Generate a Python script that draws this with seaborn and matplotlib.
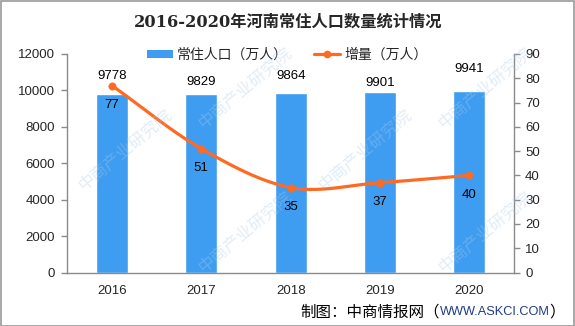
import numpy as np
import pandas as pd
import matplotlib
matplotlib.use("Agg")
import matplotlib.pyplot as plt
import seaborn as sns
from matplotlib.lines import Line2D
from matplotlib.patches import Patch, Rectangle

# ---- data ----
years = ["2016", "2017", "2018", "2019", "2020"]
population = [9778, 9829, 9864, 9901, 9941]      # 常住人口（万人）
increase = [77, 51, 35, 37, 40]                  # 增量（万人）
left_ticks = [0, 2000, 4000, 6000, 8000, 10000, 12000]
right_ticks = [0, 10, 20, 30, 40, 50, 60, 70, 80, 90]

title_text = "2016-2020年河南常住人口数量统计情况"
bar_name = "常住人口（万人）"
line_name = "增量（万人）"
footer_head = "制图：中商情报网（"
footer_url = "WWW.ASKCI.COM"
footer_tail = "）"
watermark = "中商产业研究院"

# ---- style ----
BAR = "#3F9DF1"
LINE = "#FF6A22"
SPINE = "#8A8A8A"
W, H = 575, 326

sns.set_style("white")
plt.rcParams["font.family"] = ["Liberation Sans", "Noto Sans CJK SC"]


def smooth(xv, yv, n=40):
    """Catmull-Rom curve through the points, like a smoothed spreadsheet line."""
    xv = np.asarray(xv, float)
    yv = np.asarray(yv, float)
    px = np.concatenate([[2 * xv[0] - xv[1]], xv, [2 * xv[-1] - xv[-2]]])
    py = np.concatenate([[2 * yv[0] - yv[1]], yv, [2 * yv[-1] - yv[-2]]])
    ox, oy = [], []
    t = np.linspace(0, 1, n)
    for i in range(1, len(px) - 2):
        for arr, out in ((px, ox), (py, oy)):
            p0, p1, p2, p3 = arr[i - 1], arr[i], arr[i + 1], arr[i + 2]
            out.extend(0.5 * ((2 * p1) + (-p0 + p2) * t
                              + (2 * p0 - 5 * p1 + 4 * p2 - p3) * t ** 2
                              + (-p0 + 3 * p1 - 3 * p2 + p3) * t ** 3))
    return np.array(ox), np.array(oy)


df = pd.DataFrame({"year": years, "population": population, "increase": increase})
pos = np.arange(len(years))

fig = plt.figure(figsize=(W / 100, H / 100), dpi=100)
ax = fig.add_axes([67.3 / W, 1 - 272.5 / H, (514 - 67.3) / W, (272.5 - 54) / H])
ax.set_facecolor("none")

sns.barplot(data=df, x="year", y="population", color=BAR, saturation=1,
            width=0.36, ax=ax, zorder=2)
ax.set_xlim(-0.5, len(years) - 0.5)
ax.set_ylim(0, 12000)
ax.set_yticks(left_ticks)
ax.set_xlabel("")
ax.set_ylabel("")

ax2 = ax.twinx()
sx, sy = smooth(pos, increase)
ax2.plot(sx, sy, color=LINE, lw=2.3, solid_capstyle="round", zorder=3)
sns.scatterplot(x=pos, y=increase, ax=ax2, color=LINE, edgecolor=LINE,
                s=28, zorder=4, legend=False)
ax2.set_ylim(0, 90)
ax2.set_yticks(right_ticks)
ax2.set_xlim(-0.5, len(years) - 0.5)

# value labels on the bars (raised individually to clear the curve)
bar_lift = [17, 11, 16, 8, 21]
for i, v in enumerate(population):
    ax.annotate(f"{v}", (pos[i], v), xytext=(0, bar_lift[i] + 1),
                textcoords="offset pixels", ha="center", va="center",
                fontsize=9.5, color="black", zorder=5)
for i, v in enumerate(increase):
    ax2.annotate(f"{v}", (pos[i], v), xytext=(0, -19.5),
                 textcoords="offset pixels", ha="center", va="center",
                 fontsize=9.5, color="black", zorder=5)

# axes and ticks
for a in (ax, ax2):
    for s in a.spines.values():
        s.set_color(SPINE)
        s.set_linewidth(1.0)
    a.spines["top"].set_visible(False)
ax.spines["right"].set_visible(False)
ax2.spines["left"].set_visible(False)
ax2.spines["bottom"].set_visible(False)

ax.set_xticks(pos)
ax.set_xticklabels(years)
ax.set_xticks(np.arange(-0.5, len(years)), minor=True)
ax.tick_params(axis="x", which="major", length=0, pad=9, labelsize=9.5)
ax.tick_params(axis="x", which="minor", length=4, width=1, color=SPINE, direction="out")
ax.tick_params(axis="y", length=4, width=1, color=SPINE, direction="out", pad=5,
               labelsize=9.5, left=True)
ax2.tick_params(axis="y", length=4, width=1, color=SPINE, direction="out", pad=4,
                labelsize=9.5, right=True)
ax.grid(False)
ax2.grid(False)

# title and legend
fig.text(288 / W, 1 - 22.5 / H, title_text, ha="center", va="center",
         fontsize=11.7, fontweight="bold",
         family=["DejaVu Serif", "Noto Sans CJK SC"])
handles = [Patch(facecolor=BAR, edgecolor="none", label=bar_name),
           Line2D([0], [0], color=LINE, lw=2.3, marker="o", markersize=4.5,
                  label=line_name)]
fig.legend(handles=handles, loc="center", bbox_to_anchor=(287 / W, 1 - 55 / H),
           ncol=2, frameon=False, handlelength=1.9,
           handleheight=0.55, handletextpad=0.25, columnspacing=1.9,
           prop={"family": ["Noto Sans CJK SC"], "size": 10})

# faint diagonal watermark, kept inside the frame
for xx, yy in [(125, 150), (365, 150), (245, 232), (485, 232), (245, 88), (485, 88)]:
    fig.text(xx / W, 1 - yy / H, watermark, rotation=40, ha="center",
             va="center", fontsize=12, color="#A9CBE8", alpha=0.35,
             family=["Noto Sans CJK SC"], zorder=10)

# footer, assembled right to left
fig.canvas.draw()
renderer = fig.canvas.get_renderer()
right = 565 / W
yf = 1 - 312 / H
parts = [(footer_tail, "black", 11.2), (footer_url, "#1E3C8C", 9.2),
         (footer_head, "black", 11.2)]
for txt, col, fs in parts:
    t = fig.text(right, yf, txt, ha="right", va="center", fontsize=fs, color=col,
                 family=["Liberation Sans", "Noto Sans CJK SC"])
    bb = t.get_window_extent(renderer)
    right = bb.x0 / W

# thin frame around the figure
fig.add_artist(Rectangle((0.5 / W, 0.5 / H), 1 - 1.5 / W, 1 - 1.5 / H,
                         transform=fig.transFigure, fill=False,
                         edgecolor="#9A9A9A", lw=1.2))

fig.savefig("out.png", dpi=100)
